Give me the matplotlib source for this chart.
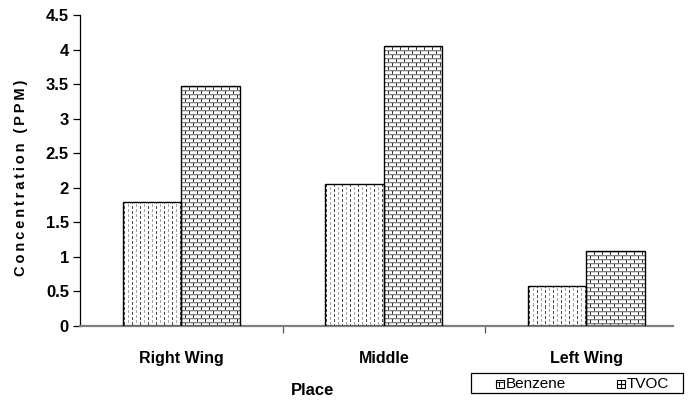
import numpy as np
import matplotlib
matplotlib.use("Agg")
import matplotlib.pyplot as plt
from matplotlib.patches import Rectangle
from matplotlib.lines import Line2D

# --- data -------------------------------------------------------------
places = ["Right Wing", "Middle", "Left Wing"]
benzene = [1.8, 2.05, 0.58]
tvoc = [3.47, 4.05, 1.08]
series_names = ["Benzene", "TVOC"]
yticks = [0, 0.5, 1, 1.5, 2, 2.5, 3, 3.5, 4, 4.5]
ytick_labels = ["0", "0.5", "1", "1.5", "2", "2.5", "3", "3.5", "4", "4.5"]

FONT = ["Liberation Sans", "DejaVu Sans"]
plt.rcParams["font.family"] = FONT

W, H, DPI = 688, 403, 100
fig = plt.figure(figsize=(W / DPI, H / DPI), dpi=DPI)
ax = fig.add_axes([80 / W, 1 - 326 / H, 607.5 / W, 311 / H])
ax.set_xlim(-0.5, 2.5)
ax.set_ylim(0, 4.5)


def dash_texture(h, w):
    """Vertical dashed columns, alternating dark and grey."""
    i = np.arange(h)[:, None]
    j = np.arange(w)[None, :]
    col = j // 4
    on_col = (j % 4) == 1
    off = 2 * (col % 2)
    on = on_col & (((i + off) % 5) < 3)
    shade = np.where(col % 2 == 0, 0.3, 0.65)
    return np.where(on, shade, 1.0)


def brick_texture(h, w):
    """Running-bond brick pattern."""
    i = np.arange(h)[:, None]
    j = np.arange(w)[None, :]
    row = i // 4
    hline = (i % 4) == 0
    hline2 = (i % 4) == 1
    vline = (((j + 4 * (row % 2)) % 8) == 0) & ~hline
    img = np.ones((h, w))
    img = np.where(hline, 0.5, img)
    img = np.where(hline2 & ~vline, 0.85, img)
    img = np.where(vline, 0.2, img)
    return img


width = 0.29
x = np.arange(len(places))


def textured_bars(xpos, vals, texture):
    bars = ax.bar(xpos, vals, width, facecolor="white", edgecolor="none", zorder=1)
    for b in bars:
        x0, y0 = b.get_x(), 0
        x1, y1 = x0 + b.get_width(), b.get_height()
        p0 = ax.transData.transform((x0, y0))
        p1 = ax.transData.transform((x1, y1))
        pw = max(int(round(p1[0] - p0[0])), 1)
        ph = max(int(round(p1[1] - p0[1])), 1)
        im = ax.imshow(texture(ph, pw), cmap="gray", vmin=0, vmax=1,
                       extent=(x0, x1, y0, y1), aspect="auto",
                       interpolation="nearest", zorder=2)
        im.set_clip_path(b)
    ax.bar(xpos, vals, width, facecolor="none", edgecolor="black",
           linewidth=1.0, zorder=3)


textured_bars(x - width / 2, benzene, dash_texture)
textured_bars(x + width / 2, tvoc, brick_texture)

ax.set_xlim(-0.5, 2.5)
ax.set_ylim(0, 4.5)

# axes styling
for s in ("top", "right"):
    ax.spines[s].set_visible(False)
ax.spines["left"].set_color("black")
ax.spines["left"].set_linewidth(0.9)
ax.spines["bottom"].set_color("#7f7f7f")
ax.spines["bottom"].set_linewidth(1.6)
ax.spines["bottom"].set_bounds(-0.5, 2.43)

ax.set_yticks(yticks)
ax.set_yticklabels(ytick_labels, fontsize=12, fontweight="bold")
ax.tick_params(axis="y", direction="out", length=5, width=0.9, pad=3)

ax.set_xticks(x)
ax.set_xticklabels(places, fontsize=11.5, fontweight="bold")
ax.tick_params(axis="x", which="major", length=0, pad=18)
ax.set_xticks([0.5, 1.5], minor=True)
ax.tick_params(axis="x", which="minor", direction="out", length=5, width=0.9,
               color="#555555")

# axis titles
ylabel = "\u2009".join(list("Concentration (PPM)"))
fig.text(21 / W, 1 - 178 / H, ylabel, rotation=90, ha="center", va="center",
         fontsize=10.5, fontweight="bold", family=FONT)
fig.text(313 / W, 1 - 395 / H, "Place", ha="center", va="baseline",
         fontsize=12, fontweight="bold")


# legend box drawn in figure pixels
def fx(px):
    return px / W


def fy(py):
    return 1 - py / H


def seg(x0, y0, x1, y1, lw=0.8, color="black"):
    fig.lines.append(Line2D([fx(x0), fx(x1)], [fy(y0), fy(y1)],
                            transform=fig.transFigure, color=color,
                            linewidth=lw))


fig.patches.append(Rectangle((fx(471), fy(393)), fx(683) - fx(471),
                             (393 - 373) / H, transform=fig.transFigure,
                             facecolor="white", edgecolor="black",
                             linewidth=0.9))

# Benzene key: small box with a vertical stroke
bx, by = 496, 380
fig.patches.append(Rectangle((fx(bx), fy(by + 8)), 8 / W, 8 / H,
                             transform=fig.transFigure, facecolor="white",
                             edgecolor="black", linewidth=0.8))
seg(bx + 3, by + 2, bx + 3, by + 6)
seg(bx + 1, by + 2, bx + 7, by + 2, lw=0.6)
fig.text(fx(506), fy(384), series_names[0], ha="left", va="center", fontsize=11)

# TVOC key: small box with a cross
tx, ty = 617, 380
fig.patches.append(Rectangle((fx(tx), fy(ty + 8)), 8 / W, 8 / H,
                             transform=fig.transFigure, facecolor="white",
                             edgecolor="black", linewidth=0.8))
seg(tx + 4, ty + 1, tx + 4, ty + 7)
seg(tx + 1, ty + 4, tx + 7, ty + 4)
fig.text(fx(627), fy(384), series_names[1], ha="left", va="center", fontsize=11)

fig.savefig("out.png", dpi=DPI)
